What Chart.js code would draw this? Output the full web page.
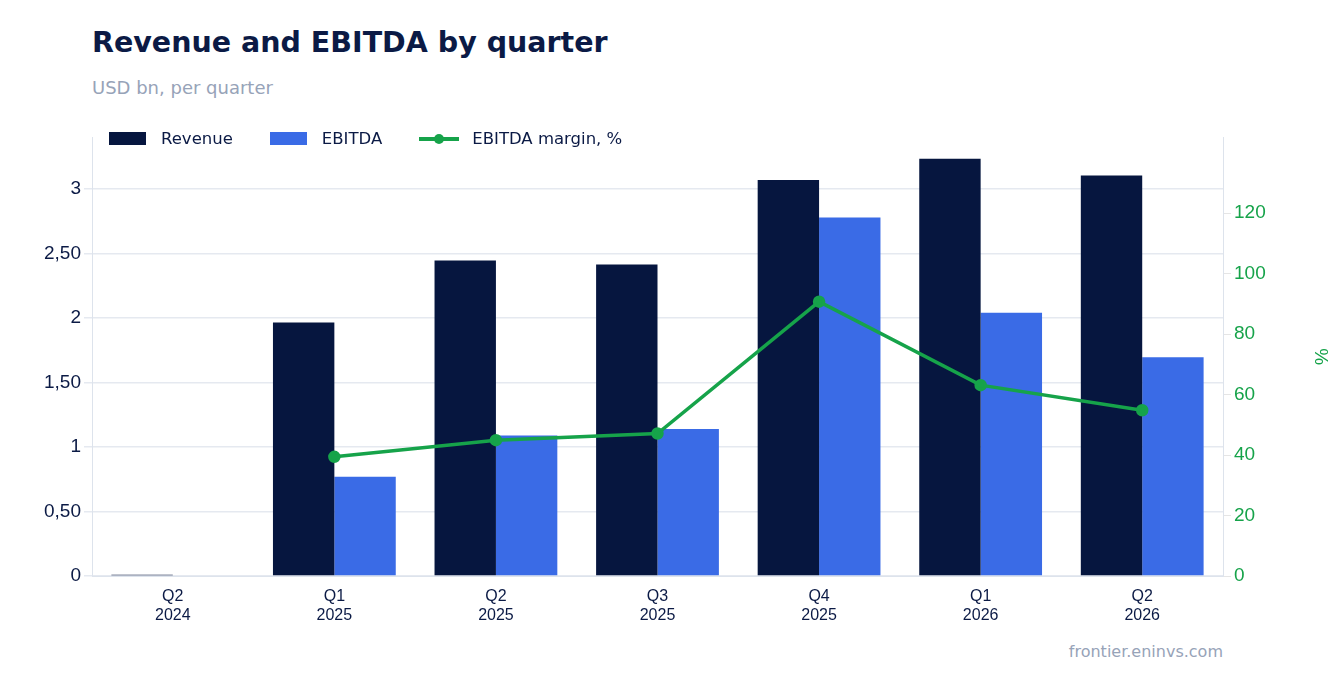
<!DOCTYPE html>
<html>
<head>
<meta charset="utf-8">
<script src="https://cdn.jsdelivr.net/npm/chart.js@4"></script>
<style>
  body { margin: 0; background: #fff; font-family: "DejaVu Sans", sans-serif; }
  #title { position: absolute; left: 92px; top: 26px; font-size: 28.5px; font-weight: bold; color: #0b1a45; }
  #sub { position: absolute; left: 92px; top: 77px; font-size: 18px; color: #97a3b8; }
  #src { position: absolute; right: 113px; top: 642px; font-size: 16px; color: #97a3b8; }
  #wrap { position: absolute; left: 0; top: 123px; width: 1336px; height: 520px; }
  #legend { position: absolute; left: 109px; top: 129px; font-size: 16.5px; color: #0b1a45; display: flex; z-index: 2; }
  .it { display: flex; align-items: center; margin-right: 37px; }
  .sw { width: 37px; height: 13px; margin-right: 15px; }
  .ln { width: 40px; height: 4px; background: #16a34a; margin-right: 13px; position: relative; }
  .ln::after { content: ''; position: absolute; left: 15px; top: -3px; width: 10px; height: 10px; border-radius: 50%; background: #16a34a; }
</style>
</head>
<body>
<div id="title">Revenue and EBITDA by quarter</div>
<div id="sub">USD bn, per quarter</div>
<div id="legend">
  <div class="it"><div class="sw" style="background:#06163f"></div>Revenue</div>
  <div class="it"><div class="sw" style="background:#3a6be6"></div>EBITDA</div>
  <div class="it"><div class="ln"></div>EBITDA margin, %</div>
</div>
<div id="src">frontier.eninvs.com</div>
<div id="wrap"><canvas id="chart1"></canvas></div>
<script>
const quarters = [['Q2', '2024'], ['Q1', '2025'], ['Q2', '2025'], ['Q3', '2025'], ['Q4', '2025'], ['Q1', '2026'], ['Q2', '2026']];
const revenue = [0.01, 1.965, 2.445, 2.415, 3.07, 3.235, 3.105];
const ebitda = [null, 0.77, 1.09, 1.14, 2.78, 2.04, 1.695];
const margin = [null, 39.4, 44.9, 47.1, 90.7, 63.1, 54.8];

const ctx = document.getElementById('chart1').getContext('2d');
new Chart(ctx, {
  data: {
    labels: quarters,
    datasets: [
      { type: 'line', label: 'EBITDA margin, %', data: margin, yAxisID: 'y1', borderColor: '#16a34a', backgroundColor: '#16a34a', borderWidth: 3.5, pointRadius: 4.5, tension: 0, order: 0 },
      { type: 'bar', label: 'Revenue', data: revenue, backgroundColor: '#06163f', yAxisID: 'y', order: 1, categoryPercentage: 0.76, barPercentage: 1 },
      { type: 'bar', label: 'EBITDA', data: ebitda, backgroundColor: '#3a6be6', yAxisID: 'y', order: 1, categoryPercentage: 0.76, barPercentage: 1 }
    ]
  },
  options: {
    responsive: true,
    maintainAspectRatio: false,
    animation: false,
    layout: { padding: 0 },
    plugins: { legend: { display: false }, tooltip: { enabled: false } },
    scales: {
      x: {
        grid: { display: false },
        border: { color: '#dde3ec' },
        ticks: { color: '#0b1a45', font: { size: 16 } },
        afterFit: s => { s.height = 67; }
      },
      y: {
        position: 'left', min: 0, max: 3.4,
        border: { color: '#dde3ec' },
        grid: { color: '#e5e9f0', lineWidth: 1.5 },
        afterBuildTicks: s => { s.ticks = s.ticks.filter(t => Math.abs(t.value * 2 - Math.round(t.value * 2)) < 1e-6); },
        afterFit: s => { s.width = 92; },
        ticks: { stepSize: 0.5, color: '#0b1a45', font: { size: 19 },
          callback: v => Number.isInteger(v) ? String(v) : v.toFixed(2).replace('.', ',') }
      },
      y1: {
        position: 'right', min: 0, max: 145,
        border: { color: '#dde3ec' },
        grid: { drawOnChartArea: false },
        afterBuildTicks: s => { s.ticks = s.ticks.filter(t => t.value % 20 === 0); },
        afterFit: s => { s.width = 113; },
        title: { display: true, text: '%', color: '#16a34a', font: { size: 19 } },
        ticks: { stepSize: 20, color: '#16a34a', font: { size: 19 } }
      }
    }
  }
});
</script>
</body>
</html>
